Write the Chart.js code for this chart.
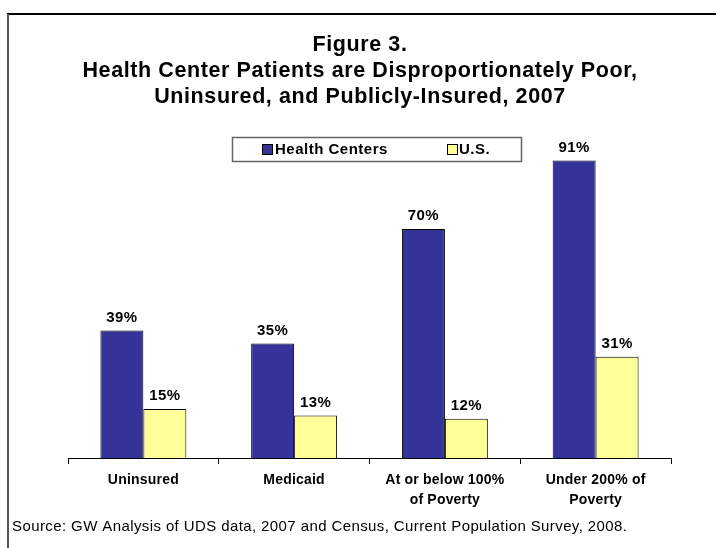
<!DOCTYPE html>
<html><head><meta charset="utf-8">
<script src="https://cdn.jsdelivr.net/npm/chart.js@4/dist/chart.umd.min.js"></script>
<style>html,body{margin:0;padding:0;background:#fff}#wrap{width:716px;height:548px;position:relative}</style>
</head><body><div id="wrap"><canvas id="c" width="716" height="548"></canvas></div>
<script>
const categories = [["Uninsured"],["Medicaid"],["At or below 100%","of Poverty"],["Under 200% of","Poverty"]];
const healthCenters = [39, 35, 70, 91];
const us = [15, 13, 12, 31];
const titleLines = ["Figure 3.","Health Center Patients are Disproportionately Poor,","Uninsured, and Publicly-Insured, 2007"];
const seriesNames = ["Health Centers","U.S."];
const sourceText = "Source: GW Analysis of UDS data, 2007 and Census, Current Population Survey, 2008.";

const FONT = '"Liberation Sans", Arial, sans-serif';

const decor = {
  id:'decor',
  beforeDraw(chart){
    const ctx = chart.ctx;
    ctx.save();
    ctx.fillStyle='#fff'; ctx.fillRect(0,0,716,548);
    // frame
    ctx.strokeStyle='#000'; ctx.lineWidth=2;
    ctx.beginPath(); ctx.moveTo(7,14); ctx.lineTo(716,14); ctx.stroke();
    ctx.strokeStyle='#555';
    ctx.beginPath(); ctx.moveTo(8,14); ctx.lineTo(8,548); ctx.stroke();
    // title
    ctx.fillStyle='#000'; ctx.textAlign='center'; ctx.textBaseline='middle';
    ctx.font='bold 21.5px '+FONT;
    ctx.letterSpacing='0.6px';
    const ty=[45,71,97];
    titleLines.forEach((t,i)=>ctx.fillText(t,360,ty[i]));
    // legend
    ctx.letterSpacing='0px';
    ctx.strokeStyle='#666'; ctx.lineWidth=1.5;
    ctx.strokeRect(232.5,137.5,289,24);
    ctx.lineWidth=1; ctx.strokeStyle='#000';
    ctx.fillStyle='#333399'; ctx.fillRect(262,144,10,10); ctx.strokeRect(262.5,144.5,10,10);
    ctx.fillStyle='#FFFF99'; ctx.fillRect(447,144,10,10); ctx.strokeRect(447.5,144.5,10,10);
    ctx.fillStyle='#000'; ctx.textAlign='left'; ctx.font='bold 15px '+FONT;
    ctx.letterSpacing='0.5px';
    ctx.fillText(seriesNames[0],275,150);
    ctx.fillText(seriesNames[1],459,150);
    // source
    ctx.font='15px '+FONT;
    ctx.letterSpacing='0.4px';
    ctx.fillText(sourceText,12,527);
    ctx.restore();
    ctx.letterSpacing='0.2px';
  },
  beforeDatasetsDraw(chart){
    chart.ctx.letterSpacing='0px';
  },
  afterDatasetsDraw(chart){
    const ctx=chart.ctx;
    ctx.save();
    ctx.fillStyle='#000'; ctx.textAlign='center'; ctx.textBaseline='middle';
    ctx.font='bold 15px '+FONT;
    ctx.letterSpacing='0.4px';
    chart.data.datasets.forEach((ds,di)=>{
      chart.getDatasetMeta(di).data.forEach((bar,i)=>{
        ctx.fillText(ds.data[i]+'%', bar.x, bar.y-13);
      });
    });
    ctx.restore();
    ctx.letterSpacing='0px';
  }
};

new Chart(document.getElementById('c'),{
  type:'bar',
  data:{
    labels:categories,
    datasets:[
      {label:seriesNames[0],data:healthCenters,backgroundColor:'#333399',borderColor:'#000',borderWidth:1,borderSkipped:'bottom'},
      {label:seriesNames[1],data:us,backgroundColor:'#FFFF99',borderColor:'#000',borderWidth:1,borderSkipped:'bottom'}
    ]
  },
  options:{
    responsive:false,animation:false,
    layout:{padding:{left:68,right:45,top:131,bottom:0}},
    plugins:{legend:{display:false},title:{display:false},tooltip:{enabled:false}},
    datasets:{bar:{categoryPercentage:0.57,barPercentage:1}},
    scales:{
      x:{
        grid:{display:true,offset:true,drawOnChartArea:false,drawTicks:true,tickLength:6,color:'#000',lineWidth:1},
        border:{display:true,color:'#000',width:1},
        ticks:{color:'#000',font:{family:FONT,weight:'bold',size:14,lineHeight:1.45},padding:6,maxRotation:0,autoSkip:false},
        afterFit(s){s.height=90;}
      },
      y:{display:false,min:0,max:100}
    }
  },
  plugins:[decor]
});
</script></body></html>
